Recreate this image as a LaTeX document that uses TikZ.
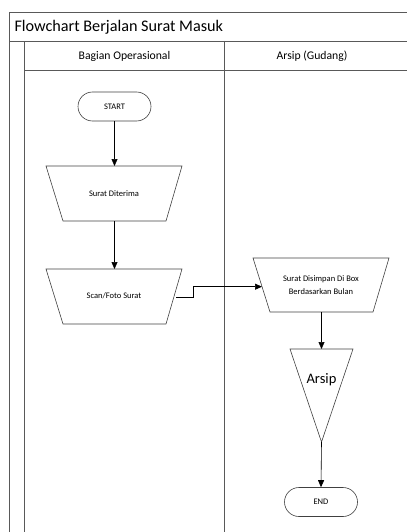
\documentclass[tikz,border=0pt]{standalone}
\usepackage{fontspec}
\setmainfont{Carlito}
\usetikzlibrary{arrows.meta,shapes.misc}
\begin{document}
\begin{tikzpicture}[x=1pt,y=-1pt,
  frame/.style={draw=black!65,line width=0.9pt},
  shp/.style={draw=black!75,line width=0.6pt},
  flow/.style={draw=black,line width=0.6pt,-{Triangle[length=7pt,width=6pt]}},
  term/.style={draw=black!75,line width=0.6pt,rounded rectangle,minimum width=73pt,minimum height=29pt,inner sep=0pt,font=\fontsize{8.5}{10}\selectfont},
  small/.style={font=\fontsize{8.5}{10}\selectfont,align=center}]
\useasboundingbox (0,0) rectangle (407,532);
% frame
\draw[frame] (9,532) -- (9,12) -- (407,12);
\draw[frame] (9,41) -- (407,41);
\draw[frame] (24,532) -- (24,41);
\draw[frame] (24,70) -- (407,70);
\draw[frame] (224,41) -- (224,532);
\node[anchor=west,font=\fontsize{16.2}{18}\selectfont] (title) at (11,27) {Flowchart Berjalan Surat Masuk};
\node[font=\fontsize{11.7}{13}\selectfont] (lane1) at (124.5,56) {Bagian Operasional};
\node[font=\fontsize{11.7}{13}\selectfont] (lane2) at (312,56) {Arsip (Gudang)};
% nodes
\node[term] (start) at (114.5,106.5) {START};
\draw[shp] (46,166) -- (182,166) -- (166,221) -- (63,221) -- cycle;
\node[small] (terima) at (114,194) {Surat Diterima};
\coordinate (terimaT) at (114.5,166);
\coordinate (terimaB) at (114.5,221);
\draw[shp] (46,269) -- (182,269) -- (166,324) -- (63,324) -- cycle;
\node[small] (scan) at (114,296) {Scan/Foto Surat};
\coordinate (scanT) at (114.5,269);
\coordinate (scanR) at (176,297);
\draw[shp] (253,258) -- (389,258) -- (373,312) -- (270,312) -- cycle;
\node[small,font=\fontsize{8.5}{13}\selectfont] (simpan) at (321,285.5) {Surat Disimpan Di Box\\Berdasarkan Bulan};
\coordinate (simpanL) at (262,286.7);
\coordinate (simpanB) at (321.5,312);
\draw[shp] (290,349) -- (353,349) -- (321.5,442) -- cycle;
\node[font=\fontsize{14.5}{16}\selectfont] (arsip) at (321.5,380) {Arsip};
\coordinate (arsipT) at (321.5,349);
\coordinate (arsipB) at (321.5,442);
\node[term] (end) at (321,502) {END};
% connectors
\draw[flow] (start.south) -- (terimaT);
\draw[flow] (terimaB) -- (scanT);
\draw[flow] (scanR) -- (193,297) -- (193,286.7) -- (simpanL);
\draw[flow] (simpanB) -- (arsipT);
\draw[flow] (arsipB) -- (end.north);
\end{tikzpicture}
\end{document}
